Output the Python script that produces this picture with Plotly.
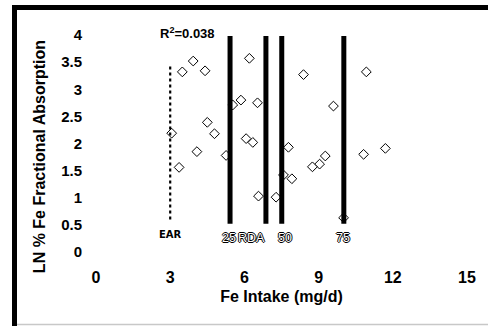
import plotly.graph_objects as go

# ---- data ----
intake = [3.93, 3.49, 4.41, 6.20, 5.86, 5.53, 6.53, 4.50, 4.79, 3.06,
          6.07, 6.34, 4.08, 5.26, 3.36, 6.57, 7.28, 8.39, 10.93, 9.60,
          7.78, 7.92, 7.58, 9.27, 9.04, 8.75, 10.82, 11.70, 10.01]
ln_abs = [3.52, 3.32, 3.34, 3.57, 2.80, 2.71, 2.75, 2.39, 2.18, 2.19,
          2.09, 2.02, 1.85, 1.78, 1.56, 1.03, 1.01, 3.27, 3.32, 2.69,
          1.93, 1.35, 1.42, 1.77, 1.62, 1.57, 1.80, 1.91, 0.63]

ear_x = 3.0
ear_range = [0.6, 3.44]
ear_label = "EAR"

ref_names = ["25", "RDA", "50", "75"]
ref_x = [5.42, 6.87, 7.51, 10.02]
ref_range = [0.52, 3.98]
ref_label_x = [5.36, 6.27, 7.65, 10.0]

x_ticks = [0, 3, 6, 9, 12, 15]
y_ticks = [0, 0.5, 1, 1.5, 2, 2.5, 3, 3.5, 4]
r2_text = "R<sup>2</sup>=0.038"

FONT = "Liberation Sans, Arial, sans-serif"

fig = go.Figure()

fig.add_trace(go.Scatter(
    x=intake, y=ln_abs, mode="markers",
    marker=dict(symbol="diamond", size=7.5, color="white",
                line=dict(color="black", width=1)),
    cliponaxis=False, showlegend=False, hoverinfo="x+y"))

fig.add_trace(go.Scatter(
    x=[ear_x, ear_x], y=ear_range, mode="lines",
    line=dict(color="black", width=2.2, dash="dot"),
    showlegend=False, hoverinfo="skip"))

for xv in ref_x:
    fig.add_trace(go.Scatter(
        x=[xv, xv], y=ref_range, mode="lines",
        line=dict(color="black", width=5),
        cliponaxis=False, showlegend=False, hoverinfo="skip"))

annotations = []
annotations.append(dict(x=ear_x, y=0.33, xref="x", yref="y", text=ear_label,
                        showarrow=False,
                        font=dict(family="DejaVu Sans, sans-serif", size=10,
                                  color="black", weight="bold")))
for name, lx in zip(ref_names, ref_label_x):
    annotations.append(dict(
        x=lx, y=0.25, xref="x", yref="y", text=name, showarrow=False,
        font=dict(family=FONT, size=12.5, color="white",
                  shadow="-1px 0px 0px #000, 1px 0px 0px #000, 0px -1px 0px #000, 0px 1px 0px #000")))
annotations.append(dict(x=3.68, y=4.0, xref="x", yref="y", text=r2_text,
                        showarrow=False, yshift=2,
                        font=dict(family=FONT, size=13, color="black", weight="bold")))
annotations.append(dict(x=-0.152, y=0.44, xref="paper", yref="paper",
                        xanchor="center", yanchor="middle",
                        text="LN % Fe Fractional Absorption", textangle=-90,
                        showarrow=False,
                        font=dict(family=FONT, size=16, color="black", weight="bold")))

# frame: thick black top/left, thin grey bottom
W, H = 488, 326
L, R, T, B = 96, 21, 35, 74
pw, ph = W - L - R, H - T - B
def px(xp):
    return (xp - L) / pw
def py(yp):
    return (H - B - yp) / ph

shapes = [
    dict(type="line", xref="paper", yref="paper", x0=px(14.5), x1=px(14.5),
         y0=py(326), y1=py(5), line=dict(color="black", width=5)),
    dict(type="line", xref="paper", yref="paper", x0=px(12), x1=px(488),
         y0=py(7.5), y1=py(7.5), line=dict(color="black", width=5)),
    dict(type="line", xref="paper", yref="paper", x0=px(17), x1=px(488),
         y0=py(324.5), y1=py(324.5), line=dict(color="#c8c8c8", width=1.5)),
]

fig.update_layout(
    width=W, height=H, autosize=False,
    margin=dict(l=L, r=R, t=T, b=B, pad=0),
    paper_bgcolor="white", plot_bgcolor="white",
    annotations=annotations, shapes=shapes,
    xaxis=dict(range=[0, 15], tickvals=x_ticks, showgrid=False, zeroline=False,
               showline=False, ticks="outside", ticklen=11, tickcolor="rgba(0,0,0,0)",
               tickfont=dict(family=FONT, size=16, color="black", weight="bold"),
               title=dict(text="Fe Intake (mg/d)", standoff=5,
                          font=dict(family=FONT, size=16, color="black", weight="bold"))),
    yaxis=dict(range=[0, 4], tickvals=y_ticks, showgrid=False, zeroline=False,
               showline=False, ticks="outside", ticklen=10, tickcolor="rgba(0,0,0,0)",
               tickfont=dict(family=FONT, size=15, color="black", weight="bold")),
)

fig.write_html("out.html", config={"displayModeBar": False},
               post_script="document.body.style.margin='0';document.body.style.padding='0';")
